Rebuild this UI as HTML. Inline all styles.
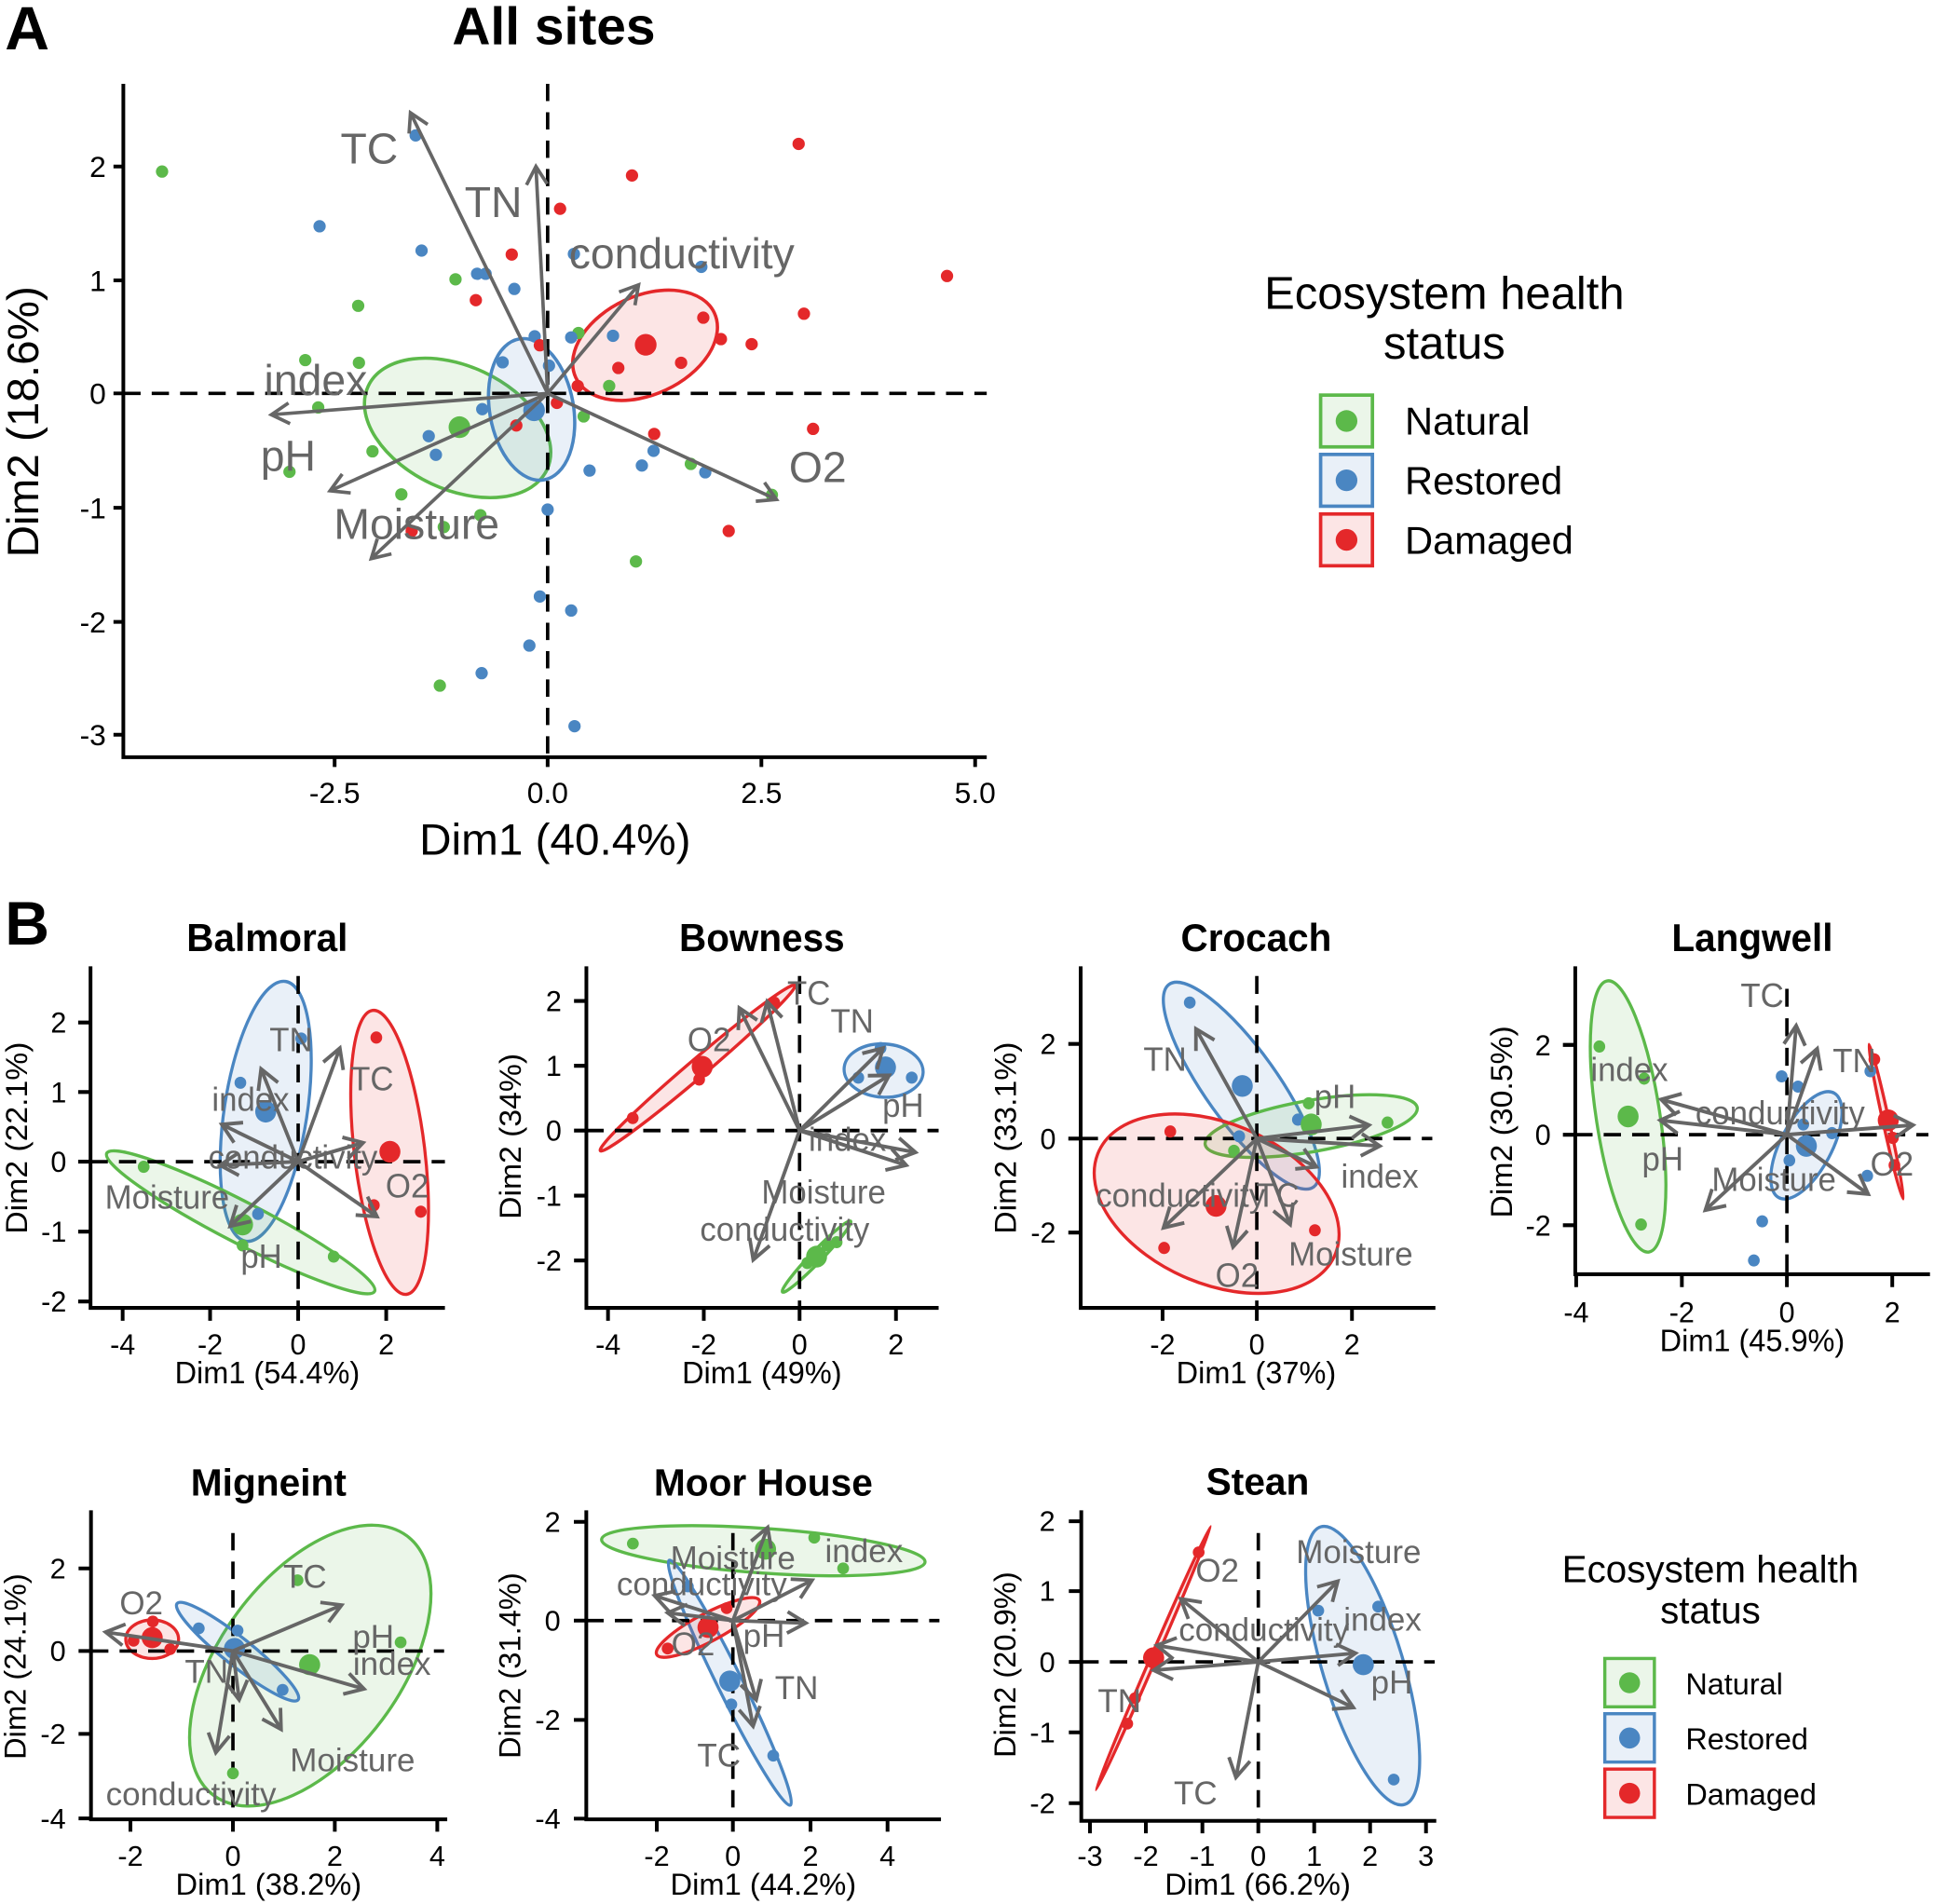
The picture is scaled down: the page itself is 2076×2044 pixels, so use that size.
<!DOCTYPE html>
<html><head><meta charset="utf-8"><style>
html,body{margin:0;padding:0;background:#fff;}
svg{display:block;}
text{font-family:"Liberation Sans",Arial,sans-serif;}
.bt{font-size:122px;font-weight:bold;text-anchor:middle;fill:#000;}
.tk{font-size:92px;fill:#000;}
.tx{font-size:92px;fill:#000;text-anchor:middle;}
.ty{font-size:92px;fill:#000;text-anchor:end;}
.at{font-size:98px;fill:#000;text-anchor:middle;}
.vl{font-size:105px;fill:#666;text-anchor:middle;}
.ax{fill:none;stroke:#000;stroke-width:12;}
.ds{stroke:#000;stroke-width:11;stroke-dasharray:56 36;fill:none;}
.ar line{stroke:#666;stroke-width:11.5;marker-end:url(#ah);}
.eg{fill:#5cb94a;fill-opacity:.12;stroke:#5cb94a;stroke-width:10;}
.eb{fill:#4a86c2;fill-opacity:.12;stroke:#4a86c2;stroke-width:10;}
.er{fill:#e4282a;fill-opacity:.12;stroke:#e4282a;stroke-width:10;}
.g{fill:#5cb94a;}.b{fill:#4a86c2;}.r{fill:#e4282a;}
</style></head><body>
<svg width="2076" height="2044" viewBox="0 0 1568 1544" preserveAspectRatio="none" xmlns="http://www.w3.org/2000/svg">
<defs>
<marker id="ah" viewBox="-7 -4 8 8" refX="0" refY="0" markerWidth="8" markerHeight="8" orient="auto" markerUnits="strokeWidth" overflow="visible">
<path d="M-5.2,-3 L0,0 L-5.2,3" fill="none" stroke="#666" stroke-width="1"/>
</marker>
</defs>
<rect x="0" y="0" width="1568" height="1544" fill="#fff"/>

<!-- ============ PANEL A ============ -->
<text x="4" y="40" font-size="50" font-weight="bold">A</text>
<text x="449" y="36" font-size="43" font-weight="bold" text-anchor="middle">All sites</text>

<g stroke-width="2.7">
<ellipse cx="371" cy="347" rx="80" ry="50" transform="rotate(25 371 347)" fill="#5cb94a" fill-opacity=".12" stroke="#5cb94a"/>
<ellipse cx="431" cy="332" rx="34" ry="58" transform="rotate(-10 431 332)" fill="#4a86c2" fill-opacity=".12" stroke="#4a86c2"/>
<ellipse cx="523" cy="280" rx="62" ry="40" transform="rotate(-25 523 280)" fill="#e4282a" fill-opacity=".12" stroke="#e4282a"/>
</g>
<g stroke="#000" stroke-width="2.8" stroke-dasharray="14 9">
<line x1="100" y1="319" x2="800" y2="319"/>
<line x1="444" y1="68" x2="444" y2="614"/>
</g>
<g class="g">
<circle cx="131.4" cy="139.1" r="5"/><circle cx="369.3" cy="226.5" r="5"/><circle cx="290.4" cy="248" r="5"/><circle cx="247.5" cy="292" r="5"/><circle cx="291" cy="294.2" r="5"/><circle cx="258" cy="330.4" r="5"/><circle cx="302" cy="366" r="5"/><circle cx="234.7" cy="382.6" r="5"/><circle cx="325.4" cy="400.9" r="5"/><circle cx="389.5" cy="417.8" r="5"/><circle cx="359.8" cy="427.4" r="5"/><circle cx="469" cy="270" r="5"/><circle cx="493.9" cy="313" r="5"/><circle cx="473.2" cy="337.7" r="5"/><circle cx="560.1" cy="376.2" r="5"/><circle cx="625.8" cy="401.3" r="5"/><circle cx="515.6" cy="455.3" r="5"/><circle cx="356.6" cy="556" r="5"/><circle cx="372.5" cy="346.4" r="8.8"/>
</g>
<g class="b">
<circle cx="337" cy="109.8" r="5"/><circle cx="259.1" cy="183.5" r="5"/><circle cx="341.8" cy="203.2" r="5"/><circle cx="386.8" cy="222" r="5"/><circle cx="393.7" cy="222" r="5"/><circle cx="417" cy="234.3" r="5"/><circle cx="465.3" cy="205.9" r="5"/><circle cx="568.6" cy="216.4" r="5"/><circle cx="433.5" cy="272.7" r="5"/><circle cx="463.1" cy="273.6" r="5"/><circle cx="497" cy="272.3" r="5"/><circle cx="407.5" cy="293.8" r="5"/><circle cx="445.1" cy="296.5" r="5"/><circle cx="391" cy="331.8" r="5"/><circle cx="347.6" cy="353.7" r="5"/><circle cx="353.4" cy="368.8" r="5"/><circle cx="478" cy="381.6" r="5"/><circle cx="520.4" cy="377.5" r="5"/><circle cx="529.9" cy="365.6" r="5"/><circle cx="571.8" cy="383" r="5"/><circle cx="444" cy="413.2" r="5"/><circle cx="437.7" cy="483.7" r="5"/><circle cx="463.1" cy="495.1" r="5"/><circle cx="429.2" cy="523.5" r="5"/><circle cx="390.5" cy="545.9" r="5"/><circle cx="465.8" cy="588.9" r="5"/><circle cx="433" cy="332.7" r="8.8"/>
</g>
<g class="r">
<circle cx="647.5" cy="116.7" r="5"/><circle cx="512.4" cy="142.3" r="5"/><circle cx="454.1" cy="169.3" r="5"/><circle cx="414.9" cy="206.4" r="5"/><circle cx="385.8" cy="243.4" r="5"/><circle cx="767.8" cy="223.8" r="5"/><circle cx="651.8" cy="254.4" r="5"/><circle cx="570.2" cy="257.6" r="5"/><circle cx="584.5" cy="275" r="5"/><circle cx="609.4" cy="279.1" r="5"/><circle cx="552.2" cy="294.2" r="5"/><circle cx="501.3" cy="298.4" r="5"/><circle cx="468.4" cy="313" r="5"/><circle cx="437.7" cy="280" r="5"/><circle cx="451.5" cy="326.7" r="5"/><circle cx="418.6" cy="345" r="5"/><circle cx="530.4" cy="351.9" r="5"/><circle cx="659.2" cy="347.8" r="5"/><circle cx="590.8" cy="430.6" r="5"/><circle cx="333.8" cy="430.6" r="5"/><circle cx="523.5" cy="279.6" r="8.8"/>
</g>
<g stroke="#666" stroke-width="2.8">
<line x1="444" y1="319" x2="332.8" y2="91.5" marker-end="url(#ah)"/>
<line x1="444" y1="319" x2="434.5" y2="135" marker-end="url(#ah)"/>
<line x1="444" y1="319" x2="517.7" y2="231" marker-end="url(#ah)"/>
<line x1="444" y1="319" x2="220" y2="336.3" marker-end="url(#ah)"/>
<line x1="444" y1="319" x2="267.6" y2="398" marker-end="url(#ah)"/>
<line x1="444" y1="319" x2="301" y2="453" marker-end="url(#ah)"/>
<line x1="444" y1="319" x2="629.5" y2="405" marker-end="url(#ah)"/>
</g>
<g font-size="35" fill="#666" text-anchor="middle">
<text x="299.4" y="132.7">TC</text>
<text x="400" y="176">TN</text>
<text x="552.7" y="217.4">conductivity</text>
<text x="256" y="320.3">index</text>
<text x="233.7" y="382">pH</text>
<text x="337.8" y="437">Moisture</text>
<text x="663" y="391">O2</text>
</g>
<path d="M100,68 V614 H800" fill="none" stroke="#000" stroke-width="3"/>
<path d="M271.3,614v8M444,614v8M617.3,614v8M790.6,614v8M100,135h-8M100,227.4h-8M100,319h-8M100,411.8h-8M100,504.3h-8M100,595.8h-8" stroke="#000" stroke-width="3"/>
<g font-size="24" text-anchor="middle">
<text x="271.3" y="651">-2.5</text><text x="444" y="651">0.0</text><text x="617.3" y="651">2.5</text><text x="790.6" y="651">5.0</text>
</g>
<g font-size="24" text-anchor="end">
<text x="86" y="143.5">2</text><text x="86" y="235.9">1</text><text x="86" y="327.5">0</text><text x="86" y="420.3">-1</text><text x="86" y="512.8">-2</text><text x="86" y="604.3">-3</text>
</g>
<text x="450" y="693" font-size="36" text-anchor="middle">Dim1 (40.4%)</text>
<text transform="translate(31,342) rotate(-90)" font-size="36" text-anchor="middle">Dim2 (18.6%)</text>

<!-- Legend A -->
<text x="1171" y="250.5" font-size="37" text-anchor="middle">Ecosystem health</text>
<text x="1171" y="291" font-size="37" text-anchor="middle">status</text>
<rect x="1070.7" y="320.4" width="42" height="42" fill="#5cb94a" fill-opacity=".12" stroke="#5cb94a" stroke-width="2.8"/>
<rect x="1070.7" y="368.5" width="42" height="42" fill="#4a86c2" fill-opacity=".12" stroke="#4a86c2" stroke-width="2.8"/>
<rect x="1070.7" y="416.8" width="42" height="42" fill="#e4282a" fill-opacity=".12" stroke="#e4282a" stroke-width="2.8"/>
<circle cx="1091.7" cy="341.4" r="8.8" class="g"/>
<circle cx="1091.7" cy="389.5" r="8.8" class="b"/>
<circle cx="1091.7" cy="437.8" r="8.8" class="r"/>
<g font-size="31.5">
<text x="1139" y="352.5">Natural</text>
<text x="1139" y="400.7">Restored</text>
<text x="1139" y="448.9">Damaged</text>
</g>

<!-- ============ PANEL B ============ -->
<text x="4" y="766" font-size="50" font-weight="bold">B</text>

<!-- Balmoral -->
<g transform="translate(0,725.1) scale(0.2505,0.2601)">
<text class="bt" x="865" y="178">Balmoral</text>
<ellipse class="eb" cx="860" cy="677" rx="134" ry="410" transform="rotate(9.1 860 677)"/>
<ellipse class="er" cx="1261" cy="805" rx="114" ry="446" transform="rotate(-7.1 1261 805)"/>
<ellipse class="eg" cx="779" cy="1023" rx="484" ry="65" transform="rotate(26.4 779 1023)"/>
<line class="ds" x1="293" y1="834" x2="1440" y2="834"/><line class="ds" x1="965" y1="255" x2="965" y2="1290"/>
<g class="b"><circle cx="975" cy="450" r="19"/><circle cx="778" cy="588" r="19"/><circle cx="835" cy="997" r="19"/><circle cx="860" cy="678" r="34"/></g>
<g class="r"><circle cx="1218" cy="447" r="19"/><circle cx="1210" cy="970" r="19"/><circle cx="1362" cy="990" r="19"/><circle cx="1262" cy="803" r="34"/></g>
<g class="g"><circle cx="465" cy="850" r="19"/><circle cx="785" cy="1095" r="19"/><circle cx="1080" cy="1130" r="19"/><circle cx="785" cy="1030" r="34"/></g>
<g class="ar"><line x1="965" y1="834" x2="1100" y2="480"/><line x1="965" y1="834" x2="845" y2="545"/><line x1="965" y1="834" x2="718" y2="718"/><line x1="965" y1="834" x2="712" y2="845"/><line x1="965" y1="834" x2="745" y2="1035"/><line x1="965" y1="834" x2="1175" y2="775"/><line x1="965" y1="834" x2="1220" y2="1005"/></g>
<text class="vl" x="942" y="490">TN</text><text class="vl" x="1204" y="612">TC</text><text class="vl" x="811" y="675">index</text><text class="vl" x="948" y="855">conductivity</text><text class="vl" x="541" y="980">Moisture</text><text class="vl" x="846" y="1165">pH</text><text class="vl" x="1318" y="945">O2</text>
<path class="ax" d="M293,225V1290H1440M397,1290v40M680,1290v40M965,1290v40M1250,1290v40M293,400h-40M293,617h-40M293,834h-40M293,1052h-40M293,1270h-40"/>
<text class="tx" x="397" y="1435">-4</text><text class="tx" x="680" y="1435">-2</text><text class="tx" x="965" y="1435">0</text><text class="tx" x="1250" y="1435">2</text>
<text class="ty" x="215" y="432">2</text><text class="ty" x="215" y="649">1</text><text class="ty" x="215" y="866">0</text><text class="ty" x="215" y="1084">-1</text><text class="ty" x="215" y="1302">-2</text>
<text class="at" x="865" y="1525">Dim1 (54.4%)</text>
<text class="at" transform="translate(88,760) rotate(-90)">Dim2 (22.1%)</text>
</g>

<!-- Bowness -->
<g transform="translate(392.75,725.1) scale(0.2505,0.2601)">
<text class="bt" x="898" y="178">Bowness</text>
<ellipse class="er" cx="690" cy="542" rx="407" ry="28" transform="rotate(-39.3 690 542)"/>
<ellipse class="eb" cx="1292" cy="550" rx="128" ry="83" transform="rotate(3 1292 550)"/>
<ellipse class="eg" cx="1075" cy="1130" rx="156" ry="18" transform="rotate(-45 1075 1130)"/>
<line class="ds" x1="330" y1="737" x2="1470" y2="737"/><line class="ds" x1="1020" y1="255" x2="1020" y2="1290"/>
<g class="r"><circle cx="480" cy="698" r="19"/><circle cx="695" cy="578" r="19"/><circle cx="938" cy="338" r="19"/><circle cx="705" cy="538" r="34"/></g>
<g class="b"><circle cx="1282" cy="480" r="19"/><circle cx="1210" cy="572" r="19"/><circle cx="1383" cy="572" r="19"/><circle cx="1298" cy="540" r="34"/></g>
<g class="g"><circle cx="1045" cy="1150" r="19"/><circle cx="1110" cy="1095" r="19"/><circle cx="1140" cy="1085" r="19"/><circle cx="1075" cy="1130" r="34"/></g>
<g class="ar"><line x1="1020" y1="737" x2="825" y2="355"/><line x1="1020" y1="737" x2="915" y2="335"/><line x1="1020" y1="737" x2="1290" y2="480"/><line x1="1020" y1="737" x2="1310" y2="565"/><line x1="1020" y1="737" x2="1395" y2="805"/><line x1="1020" y1="737" x2="1365" y2="845"/><line x1="1020" y1="737" x2="870" y2="1140"/></g>
<text class="vl" x="1050" y="345">TC</text><text class="vl" x="727" y="490">O2</text><text class="vl" x="1190" y="432">TN</text><text class="vl" x="1355" y="695">pH</text><text class="vl" x="1175" y="800">index</text><text class="vl" x="1098" y="965">Moisture</text><text class="vl" x="972" y="1080">conductivity</text>
<path class="ax" d="M330,225V1290H1470M400,1290v40M710,1290v40M1020,1290v40M1332,1290v40M330,333h-40M330,535h-40M330,737h-40M330,940h-40M330,1142h-40"/>
<text class="tx" x="400" y="1435">-4</text><text class="tx" x="710" y="1435">-2</text><text class="tx" x="1020" y="1435">0</text><text class="tx" x="1332" y="1435">2</text>
<text class="ty" x="250" y="365">2</text><text class="ty" x="250" y="567">1</text><text class="ty" x="250" y="769">0</text><text class="ty" x="250" y="972">-1</text><text class="ty" x="250" y="1174">-2</text>
<text class="at" x="898" y="1525">Dim1 (49%)</text>
<text class="at" transform="translate(118,755) rotate(-90)">Dim2 (34%)</text>
</g>

<!-- Crocach -->
<g transform="translate(785.5,725.1) scale(0.2505,0.2601)">
<text class="bt" x="930" y="178">Crocach</text>
<ellipse class="eb" cx="882" cy="597" rx="116" ry="393" transform="rotate(-36.7 882 597)"/>
<ellipse class="eg" cx="1108" cy="723" rx="348" ry="80" transform="rotate(-9.5 1108 723)"/>
<ellipse class="er" cx="802" cy="965" rx="415" ry="251" transform="rotate(21.9 802 965)"/>
<line class="ds" x1="362" y1="762" x2="1500" y2="762"/><line class="ds" x1="932" y1="255" x2="932" y2="1290"/>
<g class="b"><circle cx="715" cy="338" r="19"/><circle cx="875" cy="755" r="19"/><circle cx="1065" cy="703" r="19"/><circle cx="885" cy="598" r="34"/></g>
<g class="g"><circle cx="1100" cy="652" r="19"/><circle cx="1355" cy="712" r="19"/><circle cx="858" cy="800" r="19"/><circle cx="1108" cy="718" r="34"/></g>
<g class="r"><circle cx="652" cy="740" r="19"/><circle cx="632" cy="1103" r="19"/><circle cx="1120" cy="1048" r="19"/><circle cx="800" cy="972" r="34"/></g>
<g class="ar"><line x1="932" y1="762" x2="735" y2="420"/><line x1="932" y1="762" x2="1295" y2="720"/><line x1="932" y1="762" x2="1330" y2="785"/><line x1="932" y1="762" x2="1125" y2="850"/><line x1="932" y1="762" x2="1040" y2="1030"/><line x1="932" y1="762" x2="855" y2="1100"/><line x1="932" y1="762" x2="630" y2="1040"/></g>
<text class="vl" x="635" y="550">TN</text><text class="vl" x="1185" y="667">pH</text><text class="vl" x="1330" y="915">index</text><text class="vl" x="685" y="975">conductivity</text><text class="vl" x="1000" y="975">TC</text><text class="vl" x="1236" y="1157">Moisture</text><text class="vl" x="868" y="1225">O2</text>
<path class="ax" d="M362,225V1290H1510M627,1290v40M932,1290v40M1240,1290v40M362,467h-40M362,762h-40M362,1055h-40"/>
<text class="tx" x="627" y="1435">-2</text><text class="tx" x="932" y="1435">0</text><text class="tx" x="1240" y="1435">2</text>
<text class="ty" x="282" y="499">2</text><text class="ty" x="282" y="794">0</text><text class="ty" x="282" y="1087">-2</text>
<text class="at" x="930" y="1525">Dim1 (37%)</text>
<text class="at" transform="translate(152,760) rotate(-90)">Dim2 (33.1%)</text>
</g>

<!-- Langwell -->
<g transform="translate(1175.2,725.1) scale(0.2505,0.2601)">
<text class="bt" x="980" y="178">Langwell</text>
<ellipse class="eg" cx="578" cy="693" rx="103" ry="428" transform="rotate(-9.1 578 693)"/>
<ellipse class="eb" cx="1155" cy="783" rx="82" ry="186" transform="rotate(29 1155 783)"/>
<ellipse class="er" cx="1413" cy="709" rx="10" ry="247" transform="rotate(-12.9 1413 709)"/>
<line class="ds" x1="407" y1="750" x2="1550" y2="750"/><line class="ds" x1="1092" y1="295" x2="1092" y2="1185"/>
<g class="g"><circle cx="485" cy="475" r="19"/><circle cx="630" cy="575" r="19"/><circle cx="620" cy="1030" r="19"/><circle cx="578" cy="693" r="34"/></g>
<g class="b"><circle cx="1075" cy="568" r="19"/><circle cx="1128" cy="600" r="19"/><circle cx="1145" cy="718" r="19"/><circle cx="1100" cy="830" r="19"/><circle cx="1238" cy="745" r="19"/><circle cx="1352" cy="878" r="19"/><circle cx="1012" cy="1020" r="19"/><circle cx="985" cy="1142" r="19"/><circle cx="1362" cy="552" r="19"/><circle cx="1155" cy="785" r="34"/></g>
<g class="r"><circle cx="1375" cy="515" r="19"/><circle cx="1435" cy="760" r="19"/><circle cx="1440" cy="845" r="19"/><circle cx="1420" cy="705" r="34"/></g>
<g class="ar"><line x1="1092" y1="750" x2="1122" y2="410"/><line x1="1092" y1="750" x2="1190" y2="482"/><line x1="1092" y1="750" x2="685" y2="640"/><line x1="1092" y1="750" x2="682" y2="705"/><line x1="1092" y1="750" x2="1500" y2="720"/><line x1="1092" y1="750" x2="1355" y2="935"/><line x1="1092" y1="750" x2="828" y2="985"/></g>
<text class="vl" x="1012" y="352">TC</text><text class="vl" x="1310" y="555">TN</text><text class="vl" x="582" y="582">index</text><text class="vl" x="1070" y="718">conductivity</text><text class="vl" x="690" y="862">pH</text><text class="vl" x="1050" y="925">Moisture</text><text class="vl" x="1432" y="878">O2</text>
<path class="ax" d="M407,225V1185H1555M410,1185v40M752,1185v40M1092,1185v40M1433,1185v40M407,470h-40M407,750h-40M407,1032h-40"/>
<text class="tx" x="410" y="1335">-4</text><text class="tx" x="752" y="1335">-2</text><text class="tx" x="1092" y="1335">0</text><text class="tx" x="1433" y="1335">2</text>
<text class="ty" x="328" y="502">2</text><text class="ty" x="328" y="782">0</text><text class="ty" x="328" y="1064">-2</text>
<text class="at" x="980" y="1425">Dim1 (45.9%)</text>
<text class="at" transform="translate(202,710) rotate(-90)">Dim2 (30.5%)</text>
</g>

<!-- Migneint -->
<g transform="translate(0,1163.1) scale(0.2518)">
<text class="bt" x="865" y="198">Migneint</text>
<ellipse class="eg" cx="999" cy="745" rx="521" ry="290" transform="rotate(-53.3 999 745)"/>
<ellipse class="eb" cx="765" cy="700" rx="249" ry="45" transform="rotate(38.5 765 700)"/>
<ellipse class="er" cx="490" cy="660" rx="85" ry="62"/>
<line class="ds" x1="293" y1="698" x2="1430" y2="698"/><line class="ds" x1="750" y1="318" x2="750" y2="1240"/>
<g class="r"><circle cx="492" cy="603" r="19"/><circle cx="430" cy="665" r="19"/><circle cx="548" cy="692" r="19"/><circle cx="490" cy="655" r="34"/></g>
<g class="b"><circle cx="640" cy="625" r="19"/><circle cx="765" cy="632" r="19"/><circle cx="910" cy="823" r="19"/><circle cx="755" cy="690" r="34"/></g>
<g class="g"><circle cx="958" cy="470" r="19"/><circle cx="1290" cy="670" r="19"/><circle cx="750" cy="1092" r="19"/><circle cx="997" cy="742" r="34"/></g>
<g class="ar"><line x1="750" y1="698" x2="1100" y2="550"/><line x1="750" y1="698" x2="1172" y2="820"/><line x1="750" y1="698" x2="340" y2="637"/><line x1="750" y1="698" x2="770" y2="855"/><line x1="750" y1="698" x2="905" y2="950"/><line x1="750" y1="698" x2="695" y2="1025"/></g>
<text class="vl" x="982" y="495">TC</text><text class="vl" x="455" y="580">O2</text><text class="vl" x="1202" y="688">pH</text><text class="vl" x="1262" y="775">index</text><text class="vl" x="665" y="800">TN</text><text class="vl" x="1135" y="1085">Moisture</text><text class="vl" x="615" y="1195">conductivity</text>
<path class="ax" d="M293,245V1240H1440M420,1240v40M750,1240v40M1078,1240v40M1408,1240v40M293,432h-40M293,698h-40M293,965h-40M293,1237h-40"/>
<text class="tx" x="420" y="1390">-2</text><text class="tx" x="750" y="1390">0</text><text class="tx" x="1078" y="1390">2</text><text class="tx" x="1408" y="1390">4</text>
<text class="ty" x="212" y="464">2</text><text class="ty" x="212" y="730">0</text><text class="ty" x="212" y="997">-2</text><text class="ty" x="212" y="1269">-4</text>
<text class="at" x="865" y="1482">Dim1 (38.2%)</text>
<text class="at" transform="translate(83,748) rotate(-90)">Dim2 (24.1%)</text>
</g>

<!-- Moor House -->
<g transform="translate(392.75,1163.1) scale(0.2518)">
<text class="bt" x="898" y="198">Moor House</text>
<ellipse class="eg" cx="898" cy="375" rx="522" ry="72" transform="rotate(4 898 375)"/>
<ellipse class="eb" cx="790" cy="800" rx="440" ry="40" transform="rotate(63.7 790 800)"/>
<ellipse class="er" cx="720" cy="622" rx="187" ry="45" transform="rotate(-27.9 720 622)"/>
<line class="ds" x1="328" y1="600" x2="1465" y2="600"/><line class="ds" x1="800" y1="318" x2="800" y2="1240"/>
<g class="g"><circle cx="478" cy="352" r="19"/><circle cx="1062" cy="333" r="19"/><circle cx="1155" cy="432" r="19"/><circle cx="905" cy="370" r="34"/></g>
<g class="b"><circle cx="655" cy="490" r="19"/><circle cx="795" cy="870" r="19"/><circle cx="930" cy="1035" r="19"/><circle cx="790" cy="795" r="34"/></g>
<g class="r"><circle cx="780" cy="560" r="19"/><circle cx="590" cy="690" r="19"/><circle cx="720" cy="622" r="34"/></g>
<g class="ar"><line x1="800" y1="600" x2="912" y2="300"/><line x1="800" y1="600" x2="1055" y2="470"/><line x1="800" y1="600" x2="548" y2="520"/><line x1="800" y1="600" x2="590" y2="575"/><line x1="800" y1="600" x2="1035" y2="608"/><line x1="800" y1="600" x2="875" y2="855"/><line x1="800" y1="600" x2="865" y2="940"/></g>
<text class="vl" x="800" y="435">Moisture</text><text class="vl" x="1222" y="412">index</text><text class="vl" x="700" y="518">conductivity</text><text class="vl" x="672" y="712">O2</text><text class="vl" x="900" y="685">pH</text><text class="vl" x="1005" y="852">TN</text><text class="vl" x="755" y="1070">TC</text>
<path class="ax" d="M328,245V1240H1470M555,1240v40M800,1240v40M1050,1240v40M1298,1240v40M328,282h-40M328,600h-40M328,920h-40M328,1238h-40"/>
<text class="tx" x="555" y="1390">-2</text><text class="tx" x="800" y="1390">0</text><text class="tx" x="1050" y="1390">2</text><text class="tx" x="1298" y="1390">4</text>
<text class="ty" x="245" y="314">2</text><text class="ty" x="245" y="632">0</text><text class="ty" x="245" y="952">-2</text><text class="ty" x="245" y="1270">-4</text>
<text class="at" x="898" y="1482">Dim1 (44.2%)</text>
<text class="at" transform="translate(116,745) rotate(-90)">Dim2 (31.4%)</text>
</g>

<!-- Stean -->
<g transform="translate(785.5,1163.1) scale(0.2518)">
<text class="bt" x="930" y="195">Stean</text>
<ellipse class="er" cx="594" cy="721" rx="462" ry="9" transform="rotate(-66.5 594 721)"/>
<ellipse class="eb" cx="1268" cy="745" rx="130" ry="467" transform="rotate(-16.8 1268 745)"/>
<line class="ds" x1="362" y1="733" x2="1500" y2="733"/><line class="ds" x1="932" y1="318" x2="932" y2="1245"/>
<g class="r"><circle cx="740" cy="380" r="19"/><circle cx="535" cy="850" r="19"/><circle cx="510" cy="932" r="19"/><circle cx="595" cy="720" r="34"/></g>
<g class="b"><circle cx="1125" cy="568" r="19"/><circle cx="1318" cy="555" r="19"/><circle cx="1368" cy="1112" r="19"/><circle cx="1270" cy="742" r="34"/></g>
<g class="ar"><line x1="932" y1="733" x2="1188" y2="473"/><line x1="932" y1="733" x2="682" y2="530"/><line x1="932" y1="733" x2="605" y2="680"/><line x1="932" y1="733" x2="595" y2="760"/><line x1="932" y1="733" x2="1245" y2="705"/><line x1="932" y1="733" x2="1238" y2="880"/><line x1="932" y1="733" x2="860" y2="1105"/></g>
<text class="vl" x="1255" y="415">Moisture</text><text class="vl" x="800" y="475">O2</text><text class="vl" x="950" y="665">conductivity</text><text class="vl" x="1332" y="632">index</text><text class="vl" x="1362" y="835">pH</text><text class="vl" x="485" y="895">TN</text><text class="vl" x="730" y="1192">TC</text>
<path class="ax" d="M362,245V1245H1505M390,1245v40M570,1245v40M752,1245v40M932,1245v40M1112,1245v40M1292,1245v40M1472,1245v40M362,280h-40M362,505h-40M362,733h-40M362,960h-40M362,1188h-40"/>
<text class="tx" x="390" y="1390">-3</text><text class="tx" x="570" y="1390">-2</text><text class="tx" x="752" y="1390">-1</text><text class="tx" x="932" y="1390">0</text><text class="tx" x="1112" y="1390">1</text><text class="tx" x="1292" y="1390">2</text><text class="tx" x="1472" y="1390">3</text>
<text class="ty" x="278" y="312">2</text><text class="ty" x="278" y="537">1</text><text class="ty" x="278" y="765">0</text><text class="ty" x="278" y="992">-1</text><text class="ty" x="278" y="1220">-2</text>
<text class="at" x="930" y="1482">Dim1 (66.2%)</text>
<text class="at" transform="translate(150,742) rotate(-90)">Dim2 (20.9%)</text>
</g>

<!-- Legend B -->
<text x="1386.7" y="1283.2" font-size="30.5" text-anchor="middle">Ecosystem health</text>
<text x="1386.7" y="1316.2" font-size="30.5" text-anchor="middle">status</text>
<rect x="1301.1" y="1344.9" width="40.2" height="39.2" fill="#5cb94a" fill-opacity=".12" stroke="#5cb94a" stroke-width="2.6"/>
<rect x="1301.1" y="1389.7" width="40.2" height="39.2" fill="#4a86c2" fill-opacity=".12" stroke="#4a86c2" stroke-width="2.6"/>
<rect x="1301.1" y="1434.6" width="40.2" height="39.2" fill="#e4282a" fill-opacity=".12" stroke="#e4282a" stroke-width="2.6"/>
<circle cx="1321.2" cy="1364.6" r="8.5" class="g"/>
<circle cx="1321.2" cy="1409.4" r="8.5" class="b"/>
<circle cx="1321.2" cy="1454.2" r="8.5" class="r"/>
<g font-size="24.5">
<text x="1366.6" y="1373.9">Natural</text>
<text x="1366.6" y="1418.7">Restored</text>
<text x="1366.6" y="1463.5">Damaged</text>
</g>
</svg>
</body></html>
